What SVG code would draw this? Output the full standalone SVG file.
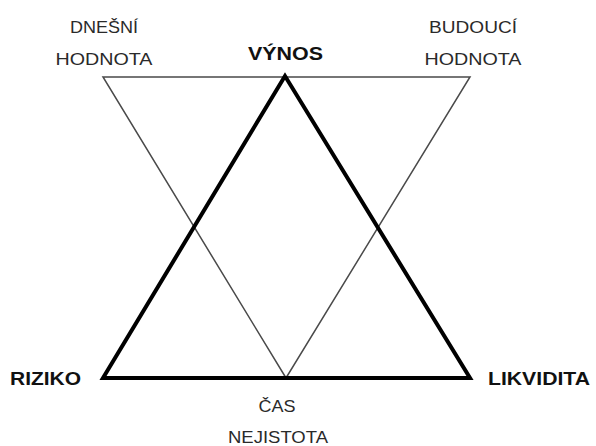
<svg xmlns="http://www.w3.org/2000/svg" width="596" height="446" viewBox="0 0 596 446">
<style>
.thin{fill:none;stroke:#4a4a4a;stroke-width:1.5}
.thick{fill:none;stroke:#000;stroke-width:4;stroke-linejoin:miter}
.lbl{font-family:"Liberation Sans",Arial,sans-serif;font-size:16.5px;fill:#2a2a2a;text-anchor:middle}
.big{font-family:"Liberation Sans",Arial,sans-serif;font-size:18px;font-weight:bold;fill:#111}
</style>
<rect width="596" height="446" fill="#fff"/>
<g id="connectors">
<polygon class="thin" points="103,77 470,77 286,378"/>
<polygon class="thick" points="285,76 103,378 470,378"/>
</g>
<g id="dnesni"><text class="lbl" x="104" y="33" textLength="68" lengthAdjust="spacingAndGlyphs">DNEŠNÍ</text><text class="lbl" x="104" y="65" textLength="97" lengthAdjust="spacingAndGlyphs">HODNOTA</text></g>
<g id="budouci"><text class="lbl" x="473" y="33" textLength="88" lengthAdjust="spacingAndGlyphs">BUDOUCÍ</text><text class="lbl" x="473" y="65" textLength="97" lengthAdjust="spacingAndGlyphs">HODNOTA</text></g>
<g id="vynos"><text class="big" x="248" y="60" textLength="75" lengthAdjust="spacingAndGlyphs">VÝNOS</text></g>
<g id="riziko"><text class="big" x="10" y="385" textLength="71" lengthAdjust="spacingAndGlyphs">RIZIKO</text></g>
<g id="likvidita"><text class="big" x="488" y="385" textLength="102" lengthAdjust="spacingAndGlyphs">LIKVIDITA</text></g>
<g id="cas"><text class="lbl" x="277" y="412" textLength="37" lengthAdjust="spacingAndGlyphs">ČAS</text><text class="lbl" x="278" y="443" textLength="100" lengthAdjust="spacingAndGlyphs">NEJISTOTA</text></g>
</svg>
